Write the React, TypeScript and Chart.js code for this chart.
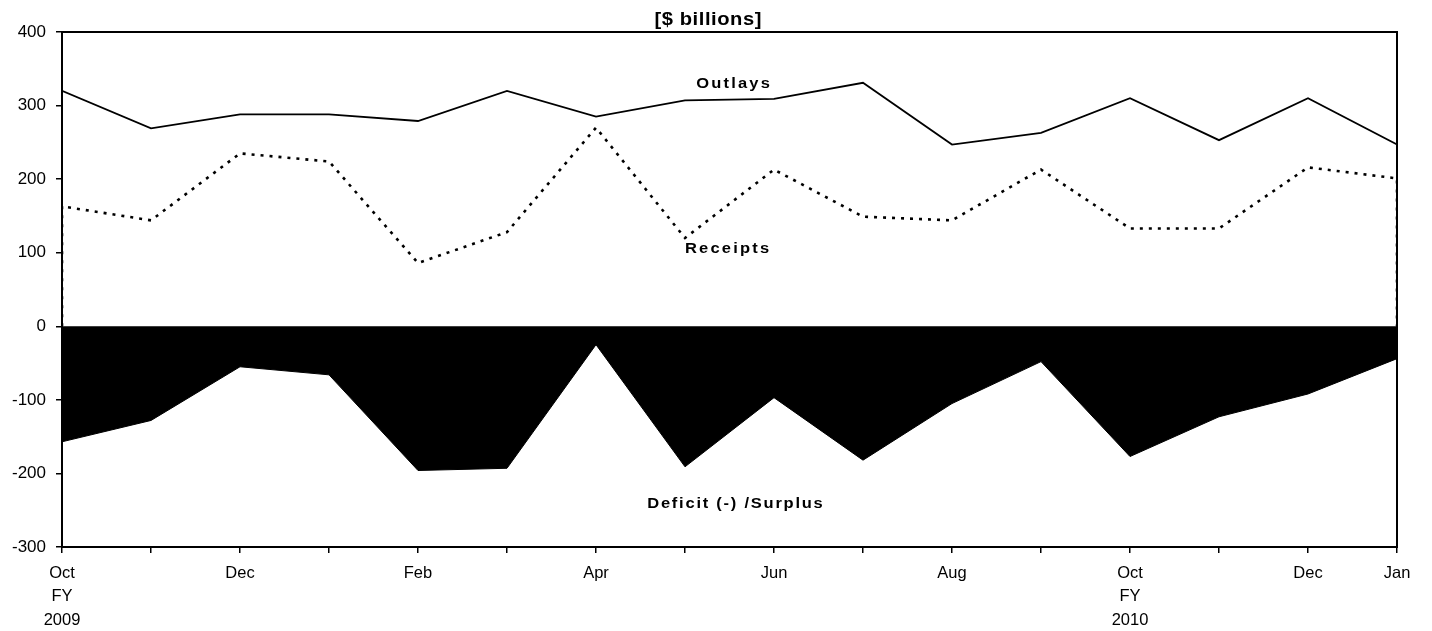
import { useEffect, useRef } from 'react';
import { Chart, registerables } from 'chart.js';

Chart.register(...registerables);

const monthLabels: (string | string[])[] = [
  ['Oct', 'FY', '2009'], '', 'Dec', '', 'Feb', '', 'Apr', '', 'Jun', '', 'Aug', '',
  ['Oct', 'FY', '2010'], '', 'Dec', 'Jan',
];
const outlays = [320, 269, 288, 288, 279, 320, 285, 307, 309, 331, 247, 263, 310, 253, 310, 247];
const receipts = [163, 144, 235, 224, 86, 128, 270, 120, 213, 149, 144, 213, 133, 133, 216, 201];
const deficit = [-157, -128, -55, -66, -196, -193, -25, -191, -97, -182, -105, -48, -177, -123, -92, -44];
const yTicks = [400, 300, 200, 100, 0, -100, -200, -300];

const FONT = '"Liberation Sans", Arial, Helvetica, sans-serif';

function drawText(ctx: CanvasRenderingContext2D, text: string, cx: number, baseline: number, size: number, spacing: number, sx: number) {
  ctx.save();
  ctx.font = `bold ${size}px ${FONT}`;
  (ctx as any).letterSpacing = `${spacing}px`;
  ctx.textAlign = 'center';
  ctx.textBaseline = 'alphabetic';
  ctx.fillStyle = '#000';
  ctx.translate(cx, baseline);
  ctx.scale(sx, 1);
  ctx.fillText(text, spacing / 2, 0);
  ctx.restore();
}

const overlay = {
  id: 'overlay',
  afterDraw(chart: any) {
    const { ctx, chartArea: a } = chart;
    ctx.save();
    ctx.strokeStyle = '#000';
    ctx.lineWidth = 2;
    ctx.strokeRect(a.left, a.top, a.right - a.left, a.bottom - a.top);
    ctx.restore();
    drawText(ctx, '[$ billions]', 708, 25, 18, 0.5, 1.12);
    drawText(ctx, 'Outlays', 733, 88, 15, 2, 1.1);
    drawText(ctx, 'Receipts', 727, 253, 15, 2, 1.1);
    drawText(ctx, 'Deficit (-) /Surplus', 735, 508, 15, 1.6, 1.1);
  },
};

export default function App() {
  const ref = useRef<HTMLCanvasElement>(null);
  useEffect(() => {
    document.body.style.margin = '0';
    const rPts = [{ x: 0, y: 0 }, ...receipts.map((v, i) => ({ x: i, y: v })), { x: receipts.length - 1, y: 0 }];
    const chart = new Chart(ref.current!, {
      type: 'line',
      data: {
        datasets: [
          {
            label: 'Deficit (-) /Surplus',
            data: deficit.map((v, i) => ({ x: i, y: v })),
            borderColor: '#000',
            backgroundColor: '#000',
            borderWidth: 1,
            fill: 'origin',
            pointRadius: 0,
            tension: 0,
          },
          {
            label: 'Outlays',
            data: outlays.map((v, i) => ({ x: i, y: v })),
            borderColor: '#000',
            borderWidth: 1.8,
            fill: false,
            pointRadius: 0,
            tension: 0,
          },
          {
            label: 'Receipts',
            data: rPts,
            borderColor: '#000',
            borderWidth: 2.6,
            borderDash: [3, 6],
            fill: false,
            pointRadius: 0,
            tension: 0,
          },
        ],
      },
      options: {
        animation: false,
        responsive: true,
        maintainAspectRatio: false,
        layout: { padding: { top: 32, right: 35, left: 0, bottom: 0 } },
        plugins: { legend: { display: false }, tooltip: { enabled: false }, title: { display: false } },
        scales: {
          x: {
            type: 'linear',
            min: 0,
            max: monthLabels.length - 1,
            afterFit: (s: any) => { s.height = 84; },
            afterBuildTicks: (s: any) => { s.ticks = monthLabels.map((_, i) => ({ value: i })); },
            border: { display: false },
            grid: { drawOnChartArea: false, drawTicks: true, tickLength: 6, color: '#000', lineWidth: 1.5 },
            ticks: {
              autoSkip: false,
              maxRotation: 0,
              minRotation: 0,
              padding: 8,
              color: '#000',
              font: { family: FONT, size: 16.5, lineHeight: 1.45 },
              callback: (v: any) => monthLabels[Math.round(Number(v))] ?? '',
            },
          },
          y: {
            min: -300,
            max: 400,
            afterFit: (s: any) => { s.width = 62; },
            afterBuildTicks: (s: any) => { s.ticks = yTicks.map((v) => ({ value: v })); },
            border: { display: false },
            grid: { drawOnChartArea: false, drawTicks: true, tickLength: 6, color: '#000', lineWidth: 1.5 },
            ticks: {
              padding: 10,
              color: '#000',
              font: { family: FONT, size: 17 },
            },
          },
        },
      },
      plugins: [overlay],
    });
    return () => chart.destroy();
  }, []);
  return (
    <div style={{ width: 1432, height: 631, position: 'relative' }}>
      <canvas ref={ref} />
    </div>
  );
}
